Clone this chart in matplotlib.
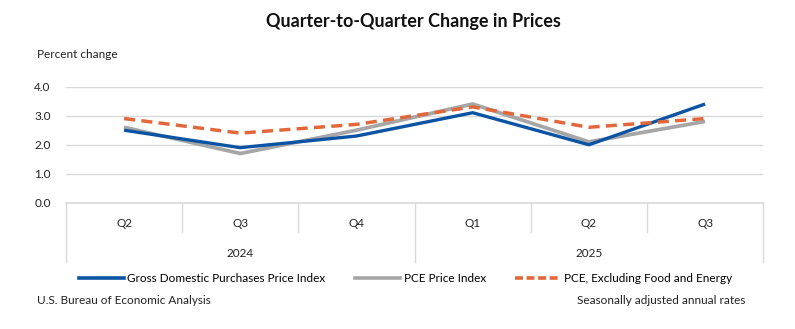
import matplotlib.pyplot as plt
from matplotlib.lines import Line2D
import numpy as np

plt.rcParams['font.family'] = ['Lato', 'DejaVu Sans']

quarters = ['Q2', 'Q3', 'Q4', 'Q1', 'Q2', 'Q3']
years = ['2024', '2025']
year_spans = [(0, 2), (3, 5)]  # first and last quarter index per year

gdp_purchases = [2.5, 1.9, 2.3, 3.1, 2.0, 3.4]
pce = [2.6, 1.7, 2.5, 3.4, 2.1, 2.8]
pce_core = [2.9, 2.4, 2.7, 3.3, 2.6, 2.9]

blue = '#0B54A4'
grey = '#A6A6A6'
orange = '#E2683C'
gridc = '#D9D9D9'

fig = plt.figure(figsize=(7.95, 3.29), dpi=100)
ax = fig.add_axes([0.083, 0.383, 0.877, 0.354])

x = np.arange(len(quarters))
ax.plot(x, pce, color=grey, lw=2.7, solid_capstyle='butt', zorder=3)
ax.plot(x, gdp_purchases, color=blue, lw=2.4, solid_capstyle='butt', zorder=4)
ax.plot(x, pce_core, color=orange, lw=2.5, dashes=(3.2, 1.8), zorder=5)

ax.set_xlim(-0.5, len(quarters) - 0.5)
ax.set_ylim(0, 4)
ax.set_yticks([0, 1, 2, 3, 4])
ax.set_yticklabels([f'{v:.1f}' for v in [0, 1, 2, 3, 4]], fontsize=8.5, color='#222222')
ax.set_xticks([])
ax.tick_params(axis='y', length=0, pad=11)
for s in ax.spines.values():
    s.set_visible(False)
ax.grid(axis='y', color=gridc, lw=1)
ax.axhline(0, color=gridc, lw=1.2, clip_on=False)

# category axis: quarter row and year row
trans = ax.get_xaxis_transform()
for i, q in enumerate(quarters):
    ax.text(i, -0.18, q, transform=trans, ha='center', va='center', fontsize=8.5, color='#222222')
for i in range(1, len(quarters)):
    bottom = -0.51 if i in [s[0] for s in year_spans] else -0.25
    ax.plot([i - 0.5, i - 0.5], [0, bottom], transform=trans, color=gridc, lw=1, clip_on=False)
for edge in [-0.5, len(quarters) - 0.5]:
    ax.plot([edge, edge], [0, -0.51], transform=trans, color=gridc, lw=1, clip_on=False)
for yr, (a, b) in zip(years, year_spans):
    ax.text((a + b) / 2, -0.43, yr, transform=trans, ha='center', va='center', fontsize=8.5, color='#222222')

fig.text(0.52, 0.935, 'Quarter-to-Quarter Change in Prices', ha='center', va='center',
         fontsize=13, fontweight='bold', color='#111111')
fig.text(0.047, 0.833, 'Percent change', ha='left', va='center', fontsize=8.5, color='#222222')

handles = [
    Line2D([], [], color=blue, lw=2.6),
    Line2D([], [], color=grey, lw=2.6),
    Line2D([], [], color=orange, lw=2.6, dashes=(2.2, 1.0)),
]
labels = ['Gross Domestic Purchases Price Index', 'PCE Price Index', 'PCE, Excluding Food and Energy']
fig.legend(handles, labels, loc='center', bbox_to_anchor=(0.51, 0.152), ncol=3, frameon=False,
           fontsize=8.5, handlelength=3.8, handletextpad=0.3, columnspacing=2.5)

fig.text(0.047, 0.088, 'U.S. Bureau of Economic Analysis', ha='left', va='center', fontsize=8.5, color='#222222')
fig.text(0.937, 0.088, 'Seasonally adjusted annual rates', ha='right', va='center', fontsize=8.5, color='#222222')

fig.savefig('out.png', dpi=100, facecolor='white')
